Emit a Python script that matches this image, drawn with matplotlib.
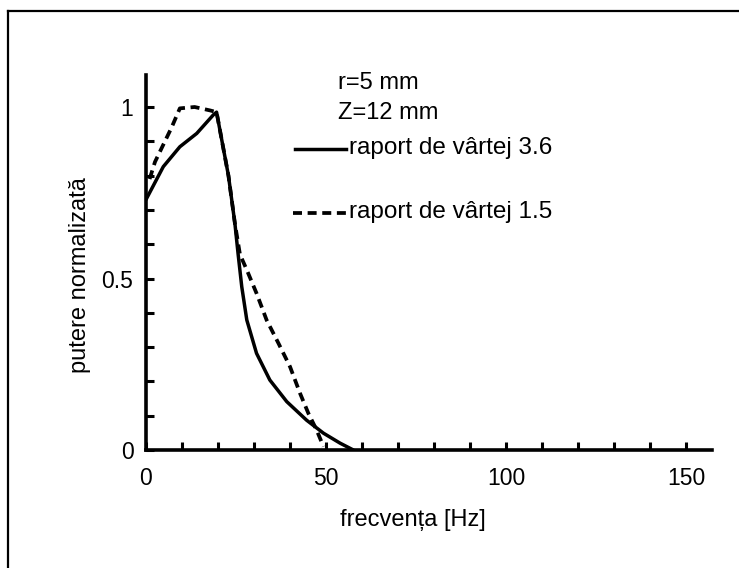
import matplotlib
matplotlib.use("Agg")
import matplotlib.pyplot as plt
from matplotlib.lines import Line2D

plt.rcParams['font.family'] = ['Liberation Sans', 'DejaVu Sans']

# Data
freq_36 = [0, 4.8, 9.4, 14.1, 18.7, 19.6, 22.9, 24.7, 25.6, 26.6, 28, 30.7, 34.4, 39.1, 44.6, 49.3, 53.9, 57.6]
pow_36 = [0.73, 0.826, 0.884, 0.923, 0.977, 0.985, 0.8, 0.66, 0.57, 0.476, 0.379, 0.282, 0.204, 0.141, 0.087, 0.049, 0.02, 0.0]
freq_15 = [1.0, 2.5, 4.8, 7.1, 9.4, 13.5, 17.8, 19.6, 22.9, 24.7, 26.1, 28, 30.7, 33.5, 36.8, 40, 42.8, 45.1, 47.4, 49.3]
pow_15 = [0.79, 0.84, 0.89, 0.94, 0.996, 1.0, 0.99, 0.985, 0.8, 0.66, 0.57, 0.525, 0.457, 0.379, 0.311, 0.243, 0.165, 0.107, 0.058, 0.01]

xticks_major = [0, 50, 100, 150]
xtick_labels = ["0", "50", "100", "150"]
yticks_major = [0, 0.5, 1]
ytick_labels = ["0", "0.5", "1"]

label_36 = "raport de vârtej 3.6"
label_15 = "raport de vârtej 1.5"

W, H = 739, 568
fig = plt.figure(figsize=(W / 100, H / 100), dpi=100)

def fx(px):
    return px / W

def fy(py):
    return 1 - py / H

x0, x1, y0, y1 = 146, 712, 450, 75
ax = fig.add_axes([fx(x0), fy(y0), (x1 - x0) / W, (y0 - y1) / H])
DASH = (2.4, 1.5)
ax.plot(freq_36, pow_36, color='black', lw=2.5, solid_joinstyle='round', solid_capstyle='round')
ax.plot(freq_15, pow_15, color='black', lw=2.7, dashes=DASH)

ax.set_xlim(0, (x1 - x0) / 3.6)
ax.set_ylim(0, (y0 - y1) / 343.0)
for s in ['top', 'right']:
    ax.spines[s].set_visible(False)
for s in ['left', 'bottom']:
    ax.spines[s].set_linewidth(2.6)

ax.set_xticks(xticks_major)
ax.set_xticklabels(xtick_labels)
ax.set_xticks(list(range(0, 151, 10)), minor=True)
ax.set_yticks(yticks_major)
ax.set_yticklabels(ytick_labels)
ax.set_yticks([i / 10 for i in range(0, 11)], minor=True)
ax.tick_params(axis='both', which='both', direction='in', width=2.2, length=6, labelsize=16.5)
ax.tick_params(axis='x', which='both', pad=12)
ax.tick_params(axis='y', which='both', pad=9)

ax.set_xlabel("frecvența [Hz]", fontsize=17)
ax.set_ylabel("putere normalizată", fontsize=17)
ax.xaxis.set_label_coords((413 - x0) / (x1 - x0), (y0 - 520) / (y0 - y1), transform=ax.transAxes)
ax.xaxis.label.set_va('center')
ax.yaxis.set_label_coords((80 - x0) / (x1 - x0), (y0 - 275) / (y0 - y1), transform=ax.transAxes)
ax.yaxis.label.set_va('center')

# Annotations and legend
fig.text(fx(338), fy(83), "r=5 mm", fontsize=17, va='center', ha='left')
fig.text(fx(338), fy(113), "Z=12 mm", fontsize=17, va='center', ha='left')
fig.add_artist(Line2D([fx(295), fx(346)], [fy(149), fy(149)], color='black', lw=2.5))
fig.text(fx(349), fy(148), label_36, fontsize=17.5, va='center', ha='left')
fig.add_artist(Line2D([fx(293), fx(346)], [fy(213), fy(213)], color='black', lw=2.7, dashes=DASH))
fig.text(fx(349), fy(212), label_15, fontsize=17.5, va='center', ha='left')

# Outer frame (left and top)
fig.add_artist(Line2D([fx(8), fx(8)], [fy(11), 0], color='black', lw=1.6))
fig.add_artist(Line2D([fx(8), 1], [fy(11), fy(11)], color='black', lw=1.6))

fig.savefig("out.png", dpi=100)
